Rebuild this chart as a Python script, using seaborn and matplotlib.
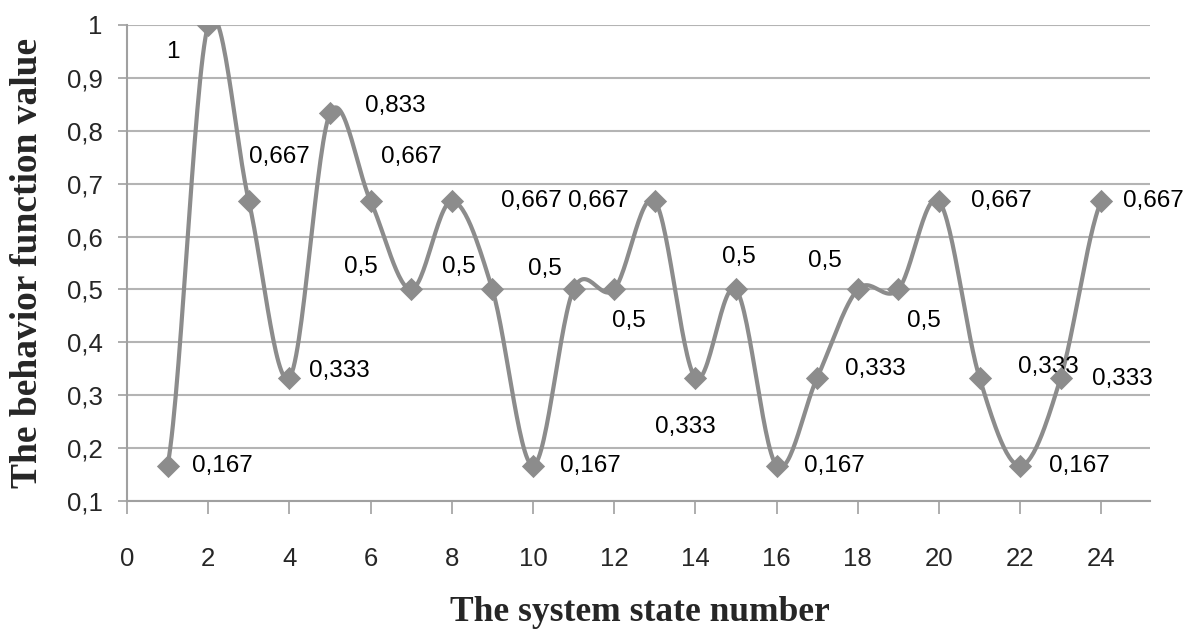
import numpy as np
import pandas as pd
import matplotlib
matplotlib.use('agg')
import matplotlib.pyplot as plt
import seaborn as sns

# data
states = list(range(1, 25))
values = [0.167, 1, 0.667, 0.333, 0.833, 0.667, 0.5, 0.667, 0.5, 0.167, 0.5, 0.5,
          0.667, 0.333, 0.5, 0.167, 0.333, 0.5, 0.5, 0.667, 0.333, 0.167, 0.333, 0.667]
labels = ["0,167", "1", "0,667", "0,333", "0,833", "0,667", "0,5", "0,667", "0,5", "0,167", "0,5", "0,5",
          "0,667", "0,333", "0,5", "0,167", "0,333", "0,5", "0,5", "0,667", "0,333", "0,167", "0,333", "0,667"]

# label offsets in pixels (dx, dy) from each marker
offsets = [(55, 0), (-35, -27), (31, 44), (50, 7), (65, 7), (41, 44), (-50, 22), (80, 0),
           (-33, 22), (57, 0), (-29, 20), (15, -32), (-56, 0), (-10, -49), (3, 32), (58, 0),
           (58, 9), (-33, 28), (26, -32), (62, 0), (69, 11), (59, 0), (62, -1), (52, 0)]

color = "#8c8c8c"


def smooth(x, y, n=30):
    # Catmull-Rom curve like the Excel smoothed line
    x = np.asarray(x, float)
    y = np.asarray(y, float)
    px = np.concatenate([[2 * x[0] - x[1]], x, [2 * x[-1] - x[-2]]])
    py = np.concatenate([[y[0]], y, [y[-1]]])
    xs, ys = [], []
    t = np.linspace(0, 1, n, endpoint=False)
    for i in range(1, len(px) - 2):
        for p, out in ((px, xs), (py, ys)):
            p0, p1, p2, p3 = p[i - 1], p[i], p[i + 1], p[i + 2]
            out.extend(0.5 * (2 * p1 + (-p0 + p2) * t + (2 * p0 - 5 * p1 + 4 * p2 - p3) * t ** 2
                              + (-p0 + 3 * p1 - 3 * p2 + p3) * t ** 3))
    xs.append(x[-1])
    ys.append(y[-1])
    return np.array(xs), np.array(ys)


sns.set_style("white")
plt.rcParams['font.family'] = ['Liberation Sans', 'DejaVu Sans']

fig = plt.figure(figsize=(11.94, 6.33), dpi=100)
ax = fig.add_axes([127 / 1194, 1 - 501 / 633, (1150 - 127) / 1194, (501 - 25) / 633])

sx, sy = smooth(states, values)
curve = pd.DataFrame({"x": sx, "y": sy})
pts = pd.DataFrame({"state": states, "value": values})

sns.lineplot(data=curve, x="x", y="y", ax=ax, color=color, linewidth=3, sort=False, estimator=None, zorder=3)
sns.scatterplot(data=pts, x="state", y="value", ax=ax, color=color, marker="D", s=140,
                edgecolor=color, linewidth=0, zorder=4)

for xv, yv, lab, (dx, dy) in zip(states, values, labels, offsets):
    ax.annotate(lab, (xv, yv), xytext=(dx, dy), textcoords="offset pixels",
                ha="center", va="center", fontsize=17.5, color="black")

ax.set_xlim(0, 25.2)
ax.set_ylim(0.1, 1.0)
ax.set_xticks(range(0, 25, 2))
ax.set_yticks(np.round(np.arange(0.1, 1.01, 0.1), 1))
ax.set_yticklabels([f"{v:.1f}".replace(".", ",").replace("1,0", "1") for v in np.arange(0.1, 1.01, 0.1)])

ax.grid(axis="y", color="#b4b4b4", linewidth=1.5)
ax.grid(axis="x", visible=False)
for s in ["top", "right"]:
    ax.spines[s].set_visible(False)
for s in ["left", "bottom"]:
    ax.spines[s].set_color("#a0a0a0")
    ax.spines[s].set_linewidth(1.5)

ax.tick_params(axis="x", direction="out", length=9, width=1.2, color="#a0a0a0", pad=24, labelsize=18.5)
ax.tick_params(axis="y", direction="out", length=6.5, width=1.2, color="#a0a0a0", pad=11, labelsize=18.5)
ax.tick_params(left=True, bottom=True)

ax.set_xlabel("The system state number", fontsize=25.5, fontweight="bold", family="Liberation Serif")
ax.set_ylabel("The behavior function value", fontsize=27, fontweight="bold", family="Liberation Serif")
ax.xaxis.set_label_coords(0.501, -0.2)
ax.yaxis.set_label_coords(-0.08, 0.5)

plt.savefig("out.png", dpi=100)
plt.close()
